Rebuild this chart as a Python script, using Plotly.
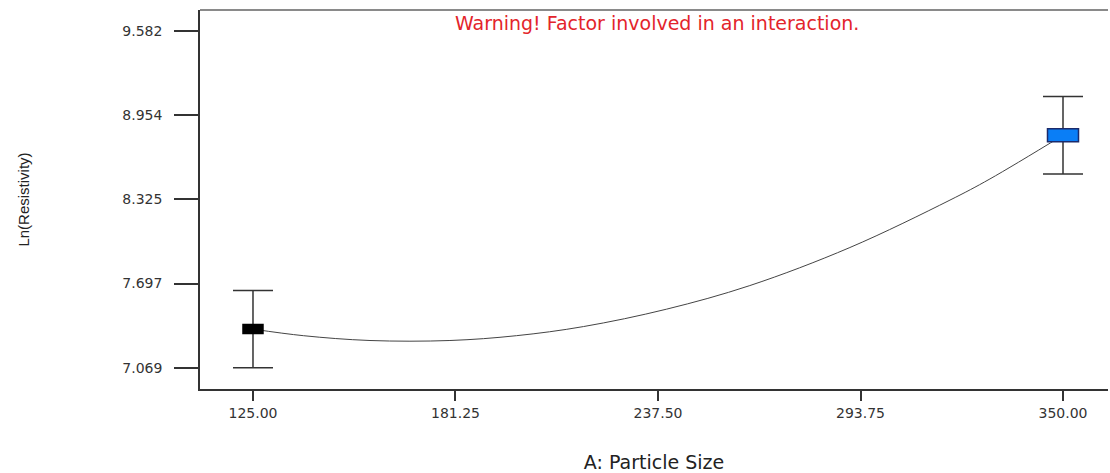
import plotly.graph_objects as go

# Data
particle_size = [125.0, 350.0]
ln_res_mean = [7.357, 8.804]
ln_res_upper = [7.645, 9.094]
ln_res_lower = [7.069, 8.514]

curve_x = [125.0, 139.0, 157.5, 179.7, 198.2, 216.8, 239.9, 263.0, 290.8, 318.6, 329.7, 350.0]
curve_y = [7.357, 7.308, 7.272, 7.272, 7.308, 7.376, 7.506, 7.682, 7.966, 8.320, 8.478, 8.804]

x_ticks = [125.0, 181.25, 237.5, 293.75, 350.0]
x_tick_labels = ["125.00", "181.25", "237.50", "293.75", "350.00"]
y_ticks = [7.069, 7.697, 8.325, 8.954, 9.582]
y_tick_labels = ["7.069", "7.697", "8.325", "8.954", "9.582"]

marker_fill = ["#000000", "#0a7ef6"]
marker_line = ["#000000", "#1b2a6b"]
marker_w = [20, 31]
marker_h = [9, 13]

font = "Liberation Sans, Arial, sans-serif"
wide = "DejaVu Sans, Verdana, sans-serif"

fig = go.Figure()

fig.add_trace(go.Scatter(
    x=curve_x, y=curve_y, mode="lines", line_shape="spline",
    line=dict(color="#444444", width=1), hoverinfo="skip", showlegend=False))

fig.add_trace(go.Scatter(
    x=particle_size, y=ln_res_mean, mode="markers",
    marker=dict(size=1, color="rgba(0,0,0,0)"),
    error_y=dict(type="data", symmetric=False,
                 array=[u - m for u, m in zip(ln_res_upper, ln_res_mean)],
                 arrayminus=[m - l for l, m in zip(ln_res_lower, ln_res_mean)],
                 color="#333333", thickness=1.5, width=20),
    showlegend=False))

shapes = []
for xv, yv, fc, lc, w, h in zip(particle_size, ln_res_mean, marker_fill, marker_line, marker_w, marker_h):
    shapes.append(dict(type="rect", xref="x", yref="y", xsizemode="pixel", ysizemode="pixel",
                       xanchor=xv, yanchor=yv, x0=-w / 2, x1=w / 2, y0=-h / 2, y1=h / 2,
                       fillcolor=fc, line=dict(color=lc, width=1.5), layer="above"))

fig.update_layout(
    width=1110, height=473,
    margin=dict(l=200, r=2, t=10, b=84),
    paper_bgcolor="white", plot_bgcolor="white",
    shapes=shapes,
    font=dict(family=font, color="#333333"),
    xaxis=dict(range=[110.28, 362.5], tickvals=x_ticks, ticktext=x_tick_labels,
               ticks="outside", ticklen=10, tickwidth=1.5, tickcolor="#333333",
               showline=True, linecolor="#333333", linewidth=1.5, mirror=False,
               showgrid=False, zeroline=False, tickfont=dict(size=14, color="#333333", family=wide),
               title=dict(text="A: Particle Size", font=dict(size=19, color="#222222", family=wide), standoff=36)),
    yaxis=dict(range=[6.910, 9.739], tickvals=y_ticks, ticktext=y_tick_labels,
               ticks="outside", ticklen=24, tickwidth=1.5, tickcolor="#333333",
               ticklabelstandoff=9,
               showline=True, linecolor="#333333", linewidth=1.5, mirror=False,
               showgrid=False, zeroline=False, tickfont=dict(size=14, color="#333333", family=wide),
               title=dict(text="Ln(Resistivity)", font=dict(size=15, color="#222222"), standoff=89)),
)

# top border line
fig.add_shape(type="line", xref="paper", yref="paper", x0=0, x1=1, y0=1, y1=1,
              line=dict(color="#8a8a8a", width=2))

fig.add_annotation(text="Warning! Factor involved in an interaction.", xref="paper", yref="paper",
                   x=0.503, y=0.967, xanchor="center", yanchor="middle", showarrow=False,
                   font=dict(size=19, color="#e3242b", family=wide))

fig.write_html("out.html")
